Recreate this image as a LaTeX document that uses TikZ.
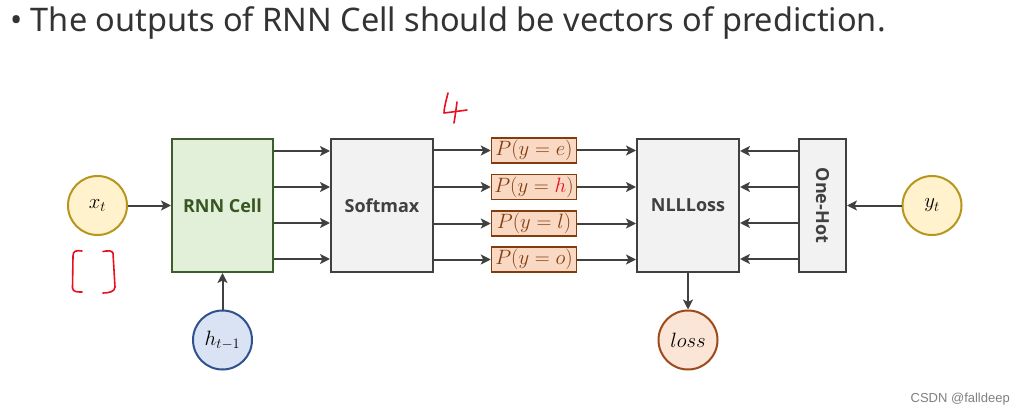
\documentclass[tikz,border=0pt]{standalone}
\usepackage{fontspec}
\setmainfont{Latin Modern Roman}
\newfontfamily\titlefont{Noto Sans}
\newfontfamily\boxfont{Open Sans}
\newfontfamily\wmfont{Liberation Sans}
\usetikzlibrary{arrows.meta}
\definecolor{arrowgray}{HTML}{404040}
\definecolor{ylfill}{HTML}{FFF2CC}
\definecolor{yldraw}{HTML}{B8961E}
\definecolor{gnfill}{HTML}{E2F0D9}
\definecolor{gndraw}{HTML}{3B5E2B}
\definecolor{gntext}{HTML}{375623}
\definecolor{blfill}{HTML}{DAE3F3}
\definecolor{bldraw}{HTML}{2F528F}
\definecolor{gyfill}{HTML}{F2F2F2}
\definecolor{orfill}{HTML}{F9D9C3}
\definecolor{ordraw}{HTML}{843C0C}
\definecolor{lsfill}{HTML}{FBE5D6}
\definecolor{lsdraw}{HTML}{9C4A1A}
\definecolor{handred}{HTML}{E8101E}
\begin{document}
\begin{tikzpicture}[x=1pt,y=-1pt,
  conn/.style={draw=arrowgray,line width=2pt,-{Stealth[length=10pt,width=10pt,inset=2.5pt]}},
  varcircle/.style={circle,minimum size=59pt,inner sep=0pt,line width=2pt,font=\fontsize{22}{26}\selectfont},
  blockbox/.style={rectangle,line width=2pt,inner sep=0pt,font=\boxfont\bfseries\fontsize{18}{21}\selectfont},
  probbox/.style={rectangle,draw=ordraw,fill=orfill,line width=1.5pt,minimum width=85pt,minimum height=25pt,inner sep=0pt,text=ordraw,font=\fontsize{21}{24}\selectfont},
  hand/.style={draw=handred,line width=1.6pt,line cap=round,line join=round}
]
\useasboundingbox (0,0) rectangle (1020,417);
\fill[white] (0,0) rectangle (1020,417);

\node[anchor=west,inner sep=0pt,text=black!80,font=\titlefont\fontsize{32.5}{38}\selectfont] (title) at (10,23) {\textbullet\ The outputs of RNN Cell should be vectors of prediction.};

% nodes
\node[varcircle,draw=yldraw,fill=ylfill] (xt) at (97.5,205.5) {$x_t$};
\node[blockbox,draw=gndraw,fill=gnfill,text=gntext,minimum width=101pt,minimum height=133pt] (rnn) at (222.5,205.5) {RNN Cell};
\node[varcircle,draw=bldraw,fill=blfill] (h) at (222.5,340) {$h_{t-1}$};
\node[blockbox,draw=arrowgray,fill=gyfill,text=black!75,minimum width=102pt,minimum height=133pt] (soft) at (382,205.5) {Softmax};
\node[probbox] (p1) at (534,150.5) {$P(y=e)$};
\node[probbox] (p2) at (534,187) {$P(y=\textcolor{handred}{h})$};
\node[probbox] (p3) at (534,223.5) {$P(y=l)$};
\node[probbox] (p4) at (534,259.5) {$P(y=o)$};
\node[blockbox,draw=arrowgray,fill=gyfill,text=black!75,minimum width=102pt,minimum height=133pt] (nll) at (688,205.5) {NLLLoss};
\node[blockbox,draw=arrowgray,fill=gyfill,text=black!75,minimum width=47pt,minimum height=133pt] (oh) at (822.5,205.5) {};
\node[rotate=-90,text=black!75,font=\boxfont\bfseries\fontsize{18}{21}\selectfont,inner sep=0pt] (ohlabel) at (oh.center) {One-Hot};
\node[varcircle,draw=yldraw,fill=ylfill] (yt) at (932,205.5) {$y_t$};
\node[varcircle,draw=lsdraw,fill=lsfill] (loss) at (688,340) {$loss$};

% connectors
\draw[conn] (xt) -- (rnn.west);
\draw[conn] (h) -- (rnn.south);
\foreach \yy in {151,187,223,259}{
  \draw[conn] (rnn.east |- 0,\yy) -- (soft.west |- 0,\yy);
  \draw[conn] (oh.west |- 0,\yy) -- (nll.east |- 0,\yy);
}
\draw[conn] (soft.east |- p1) -- (p1.west);
\draw[conn] (soft.east |- p2) -- (p2.west);
\draw[conn] (soft.east |- p3) -- (p3.west);
\draw[conn] (soft.east |- p4) -- (p4.west);
\draw[conn] (p1.east) -- (nll.west |- p1);
\draw[conn] (p2.east) -- (nll.west |- p2);
\draw[conn] (p3.east) -- (nll.west |- p3);
\draw[conn] (p4.east) -- (nll.west |- p4);
\draw[conn] (yt) -- (oh.east);
\draw[conn] (nll.south) -- (loss);

% handwritten marks
\draw[hand] (82,251) .. controls (76,250) and (73,251) .. (73,256) -- (72.5,288) .. controls (73,292) and (77,292) .. (82,292);
\draw[hand] (103,251.5) .. controls (108,250.5) and (112,250.5) .. (113,253) -- (115,287) .. controls (115,292) and (108,293) .. (103,293);
\draw[hand] (448,93) .. controls (446,101) and (444,108) .. (444,113) .. controls (452,112) and (460,111) .. (467,110);
\draw[hand] (457,102) .. controls (456,110) and (455,117) .. (454,123);

\node[anchor=east,inner sep=0pt,text=black!50,font=\wmfont\fontsize{13}{15}\selectfont] (wm) at (1010,399) {CSDN @falldeep};
\end{tikzpicture}
\end{document}
